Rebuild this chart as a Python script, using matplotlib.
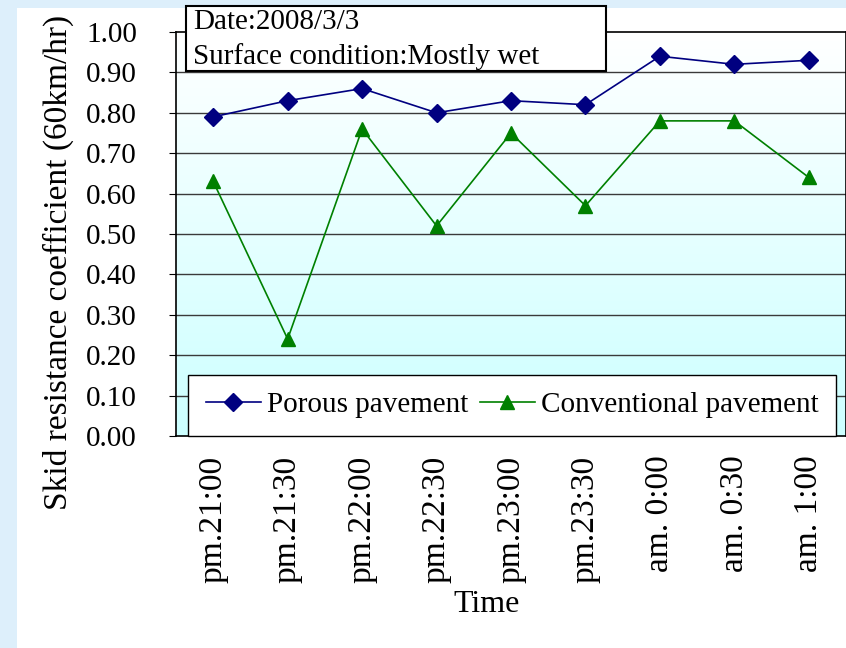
import numpy as np
import matplotlib
matplotlib.use("Agg")
import matplotlib.pyplot as plt
from matplotlib.patches import Rectangle

# skid resistance readings, night of 2008/3/3
times = ["pm.21:00", "pm.21:30", "pm.22:00", "pm.22:30", "pm.23:00",
         "pm.23:30", "am. 0:00", "am. 0:30", "am. 1:00"]
porous = [0.79, 0.83, 0.86, 0.80, 0.83, 0.82, 0.94, 0.92, 0.93]
conventional = [0.63, 0.24, 0.76, 0.52, 0.75, 0.57, 0.78, 0.78, 0.64]
yticks = [0.0, 0.1, 0.2, 0.3, 0.4, 0.5, 0.6, 0.7, 0.8, 0.9, 1.0]

plt.rcParams['font.family'] = ['Liberation Serif', 'DejaVu Serif']

W, H = 846, 648
fig = plt.figure(figsize=(W / 100, H / 100), dpi=100)
fig.patch.set_facecolor("#ddeffb")
# white sheet behind the chart
fig.patches.append(Rectangle((17 / W, 0), 1, 1 - 8 / H, transform=fig.transFigure,
                             facecolor="white", edgecolor="none", zorder=-10))

ax = fig.add_axes([176 / W, (H - 436) / H, 670 / W, 404 / H])
x = np.arange(len(times))

# white-to-cyan fill of the plot area
grad = np.linspace(0, 1, 256).reshape(-1, 1)
cmap = matplotlib.colors.LinearSegmentedColormap.from_list("bg", ["#ffffff", "#ccffff"])
ax.imshow(grad, cmap=cmap, aspect="auto", extent=[-0.5, len(times) - 0.5, 0.0, 1.0],
          origin="upper", zorder=0)
ax.set_xlim(-0.5, len(times) - 0.5)
ax.set_ylim(0, 1.0)

for yv in yticks[1:-1]:
    ax.axhline(yv, color="#3a3a3a", lw=1.0, zorder=1)

ax.plot(x, porous, color="#000080", lw=1.2, marker="D", ms=9, zorder=3,
        label="Porous pavement")
ax.plot(x, conventional, color="#008000", lw=1.2, marker="^", ms=10.5, zorder=3,
        label="Conventional pavement")

ax.set_yticks(yticks)
ax.set_yticklabels(["%.2f" % v for v in yticks], fontsize=21)
ax.set_xticks(x)
ax.set_xticklabels(times, rotation=90, fontsize=24)
ax.tick_params(axis="x", length=0, pad=14)
ax.tick_params(axis="y", length=5, direction="out", pad=23)
for s in ax.spines.values():
    s.set_color("black")
    s.set_linewidth(1.2)

fig.text(487 / W, 1 - 605 / H, "Time", fontsize=23, ha="center", va="center")
fig.text(58 / W, 1 - 262 / H, "Skid resistance coefficient (60km/hr)", fontsize=24,
         rotation=90, ha="center", va="center")

leg = ax.legend(loc="lower left", bbox_to_anchor=(12 / 670, 0.0), borderaxespad=0,
                ncol=2, fontsize=21, frameon=True, fancybox=False, handlelength=1.9,
                columnspacing=0.4, handletextpad=0.2, borderpad=0.6)
leg.get_frame().set_edgecolor("black")
leg.get_frame().set_linewidth(1.0)
leg.get_frame().set_facecolor("white")
leg.get_frame().set_alpha(1)

# condition box above the plot
fig.patches.append(Rectangle((186 / W, (H - 71) / H), 420 / W, 65 / H,
                             transform=fig.transFigure, facecolor="white",
                             edgecolor="black", lw=1.5, zorder=5))
fig.text(193 / W, 1 - 22 / H, "Date:2008/3/3", fontsize=21, va="center", zorder=6)
fig.text(193 / W, 1 - 57 / H, "Surface condition:Mostly wet", fontsize=21,
         va="center", zorder=6)

fig.savefig("out.png", dpi=100, facecolor=fig.get_facecolor())
